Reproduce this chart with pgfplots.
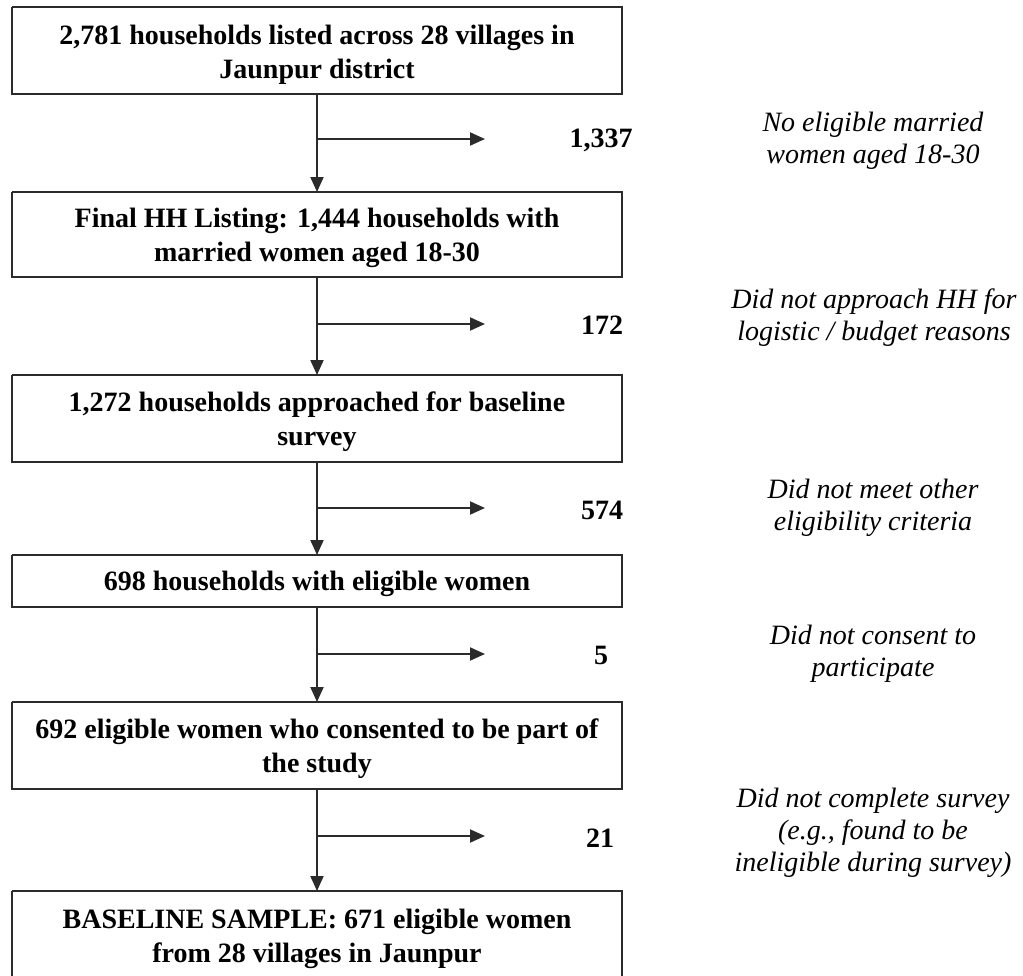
\documentclass[border=0pt]{standalone}
\usepackage{fontspec}
\setmainfont{Liberation Serif}
\usepackage{pgfplots}
\pgfplotsset{compat=1.18}
\usetikzlibrary{arrows.meta}

\definecolor{flowline}{HTML}{2B2B2B}

\begin{document}
\begin{tikzpicture}[
    box/.style={font=\bfseries\fontsize{28}{34}\selectfont, align=center, inner sep=0pt},
    count/.style={font=\bfseries\fontsize{28}{34}\selectfont, inner sep=0pt},
    why/.style={font=\itshape\fontsize{28}{32}\selectfont, align=center, inner sep=0pt},
  ]
  \begin{axis}[
      scale only axis,
      width=1023pt, height=975pt,
      xmin=0, xmax=1023, ymin=0, ymax=975,
      y dir=reverse,
      hide axis,
      clip=false,
      frame/.style={flowline, line width=2pt, mark=none, solid},
      flow/.style={flowline, line width=2pt, mark=none, solid,
        -{Triangle[length=15pt, width=13pt]}},
    ]
    % boxes (pixel coordinates, y down)
    \addplot[frame] coordinates {(12,7) (622,7) (622,94) (12,94) (12,7)};
    \addplot[frame] coordinates {(12,192) (622,192) (622,277) (12,277) (12,192)};
    \addplot[frame] coordinates {(12,375) (622,375) (622,462) (12,462) (12,375)};
    \addplot[frame] coordinates {(12,555) (622,555) (622,607) (12,607) (12,555)};
    \addplot[frame] coordinates {(12,702) (622,702) (622,789) (12,789) (12,702)};
    \addplot[frame] coordinates {(12,891) (622,891) (622,978) (12,978) (12,891)};

    % down arrows
    \addplot[flow] coordinates {(317,94) (317,192)};
    \addplot[flow] coordinates {(317,277) (317,375)};
    \addplot[flow] coordinates {(317,462) (317,555)};
    \addplot[flow] coordinates {(317,607) (317,702)};
    \addplot[flow] coordinates {(317,789) (317,891)};

    % exclusion arrows
    \addplot[flow] coordinates {(317,139) (485,139)};
    \addplot[flow] coordinates {(317,324) (485,324)};
    \addplot[flow] coordinates {(317,508) (485,508)};
    \addplot[flow] coordinates {(317,654) (485,654)};
    \addplot[flow] coordinates {(317,836) (485,836)};

    \node[box] at (axis cs:317,55) {2,781 households listed across 28 villages in\\Jaunpur district};
    \node[box] at (axis cs:317,238) {Final HH Listing: 1,444 households with\\married women aged 18-30};
    \node[box] at (axis cs:317,422) {1,272 households approached for baseline\\survey};
    \node[box] at (axis cs:317,584) {698 households with eligible women};
    \node[box] at (axis cs:317,749) {692 eligible women who consented to be part of\\the study};
    \node[box] at (axis cs:317,939) {BASELINE SAMPLE: 671 eligible women\\from 28 villages in Jaunpur};

    \node[count] at (axis cs:601,140) {1,337};
    \node[count] at (axis cs:602,325) {172};
    \node[count] at (axis cs:602,510) {574};
    \node[count] at (axis cs:601,655) {5};
    \node[count] at (axis cs:600,838) {21};

    \node[why] at (axis cs:873,141) {No eligible married\\women aged 18-30};
    \node[why] at (axis cs:874,318) {Did not approach HH for\\logistic / budget reasons};
    \node[why] at (axis cs:873,508) {Did not meet other\\eligibility criteria};
    \node[why] at (axis cs:873,654) {Did not consent to\\participate};
    \node[why] at (axis cs:873,833) {Did not complete survey\\(e.g., found to be\\ineligible during survey)};
  \end{axis}
  \pgfresetboundingbox
  \path (current axis.south west) rectangle (current axis.north east);
\end{tikzpicture}
\end{document}
